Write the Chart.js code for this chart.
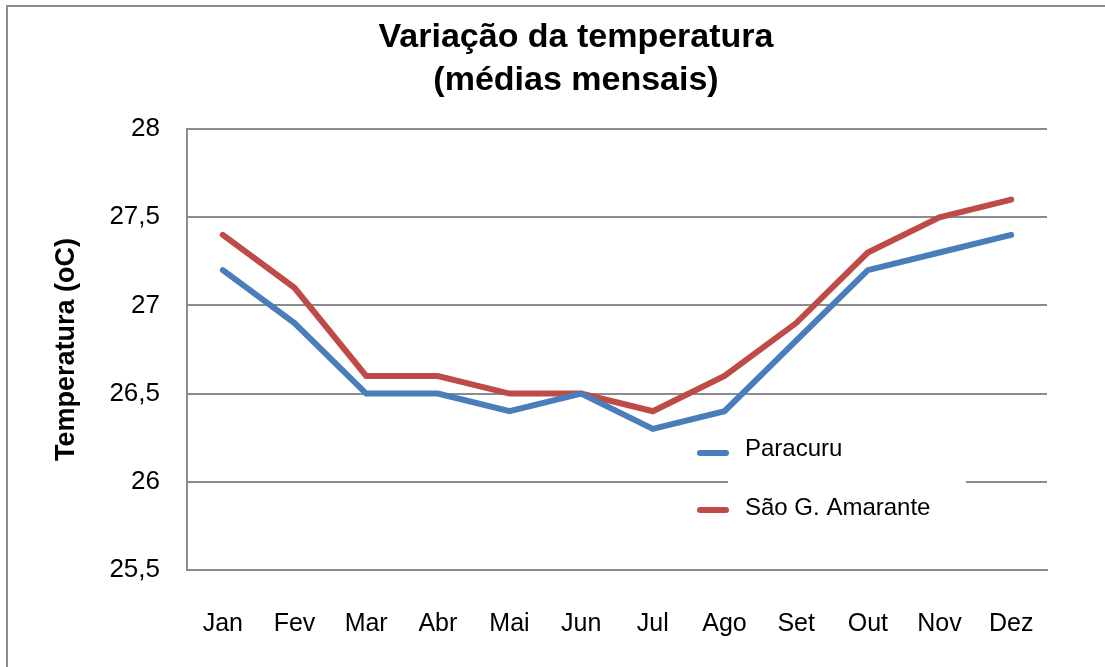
<!DOCTYPE html>
<html>
<head>
<meta charset="utf-8">
<script src="https://cdn.jsdelivr.net/npm/chart.js@4"></script>
<style>
  html, body { margin: 0; padding: 0; background: #fff; }
  #frame {
    position: absolute; left: 6px; top: 5px; width: 1105px; height: 670px;
    border-left: 2px solid #8c8c8c; border-top: 2px solid #8c8c8c;
  }
  #chart { position: absolute; left: 0; top: 0; }
</style>
</head>
<body>
<div id="frame"></div>
<canvas id="chart" width="1105" height="667"></canvas>
<script>
// Dados do gráfico
const months = ["Jan", "Fev", "Mar", "Abr", "Mai", "Jun", "Jul", "Ago", "Set", "Out", "Nov", "Dez"];
const paracuru = [27.2, 26.9, 26.5, 26.5, 26.4, 26.5, 26.3, 26.4, 26.8, 27.2, 27.3, 27.4];
const saoGoncalo = [27.4, 27.1, 26.6, 26.6, 26.5, 26.5, 26.4, 26.6, 26.9, 27.3, 27.5, 27.6];
const yTicks = [25.5, 26, 26.5, 27, 27.5, 28];
const yTickLabels = ["25,5", "26", "26,5", "27", "27,5", "28"];

const FONT = "'Liberation Sans', Arial, sans-serif";
const GRID = "#8c8c8c";

// Legenda dentro da área do gráfico
const insideLegend = {
  id: "insideLegend",
  afterDraw(chart) {
    const ctx = chart.ctx;
    ctx.save();
    ctx.fillStyle = "#fff";
    ctx.fillRect(728, 430, 238, 104);
    const rows = [453, 510];
    chart.data.datasets.forEach((ds, i) => {
      const y = rows[i];
      ctx.strokeStyle = ds.borderColor;
      ctx.lineWidth = 6;
      ctx.lineCap = "round";
      ctx.beginPath();
      ctx.moveTo(700, y);
      ctx.lineTo(726, y);
      ctx.stroke();
      ctx.fillStyle = "#000";
      ctx.font = "24px " + FONT;
      ctx.textBaseline = "middle";
      ctx.textAlign = "left";
      ctx.fillText(ds.label, 745, y - 4 + i * 2);
    });
    ctx.restore();
  },
};

new Chart(document.getElementById("chart"), {
  type: "line",
  data: {
    labels: months,
    datasets: [
      {
        label: "Paracuru",
        data: paracuru,
        borderColor: "#4A7EBB",
        borderWidth: 6,
        borderCapStyle: "round",
        pointRadius: 0,
        tension: 0,
      },
      {
        label: "São G. Amarante",
        data: saoGoncalo,
        borderColor: "#BE4B48",
        borderWidth: 6,
        borderCapStyle: "round",
        pointRadius: 0,
        tension: 0,
      },
    ],
  },
  options: {
    responsive: false,
    animation: false,
    layout: { padding: { left: 105, right: 58, top: 0, bottom: 0 } },
    plugins: {
      legend: { display: false },
      tooltip: { enabled: false },
      title: {
        display: true,
        text: ["Variação da temperatura", "(médias mensais)"],
        color: "#000",
        font: { family: FONT, size: 34, weight: "bold", lineHeight: 1.265 },
        padding: { top: 16, bottom: 27 },
      },
    },
    scales: {
      x: {
        offset: true,
        grid: { display: false, offset: true },
        border: { display: true, color: GRID, width: 2 },
        ticks: { color: "#000", font: { family: FONT, size: 25 }, padding: 31, maxRotation: 0 },
        afterFit: (s) => { s.height = 97; },
      },
      y: {
        min: 25.5,
        max: 28,
        afterBuildTicks: (s) => { s.ticks = yTicks.map((v) => ({ value: v })); },
        grid: { color: GRID, lineWidth: 2, drawTicks: false },
        border: { display: true, color: GRID, width: 2 },
        ticks: {
          color: "#000",
          font: { family: FONT, size: 26 },
          padding: 27,
          callback: (v, i) => yTickLabels[i],
        },
        title: {
          display: true,
          text: "Temperatura (oC)",
          color: "#000",
          font: { family: FONT, size: 27, weight: "bold" },
          padding: { top: -55, bottom: 0 },
        },
        afterFit: (s) => { s.width = 82; },
      },
    },
  },
  plugins: [insideLegend],
});
</script>
</body>
</html>
